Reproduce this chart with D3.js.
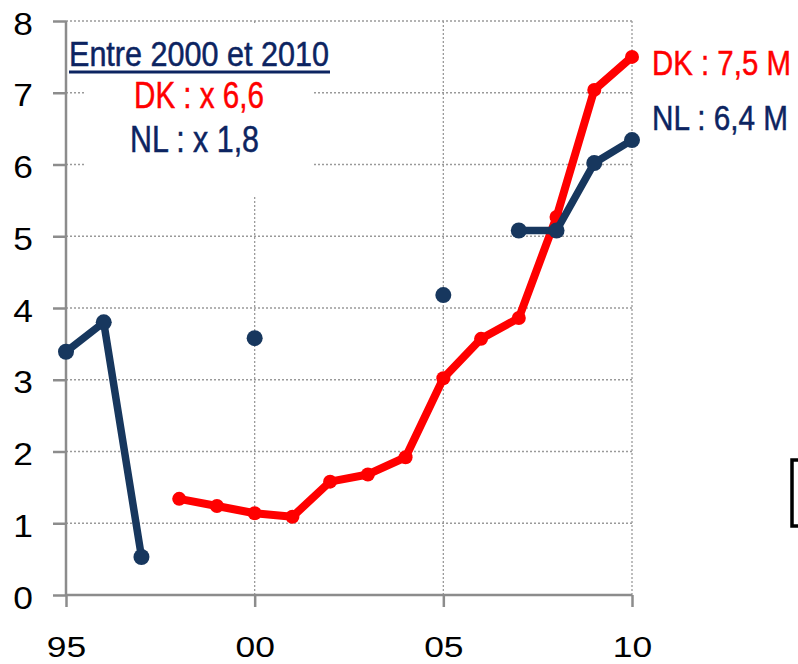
<!DOCTYPE html>
<html>
<head>
<meta charset="utf-8">
<script src="https://cdn.jsdelivr.net/npm/d3@7"></script>
<style>
  body { margin: 0; background: #fff; }
  svg { display: block; }
</style>
</head>
<body>
<div id="chart"></div>
<script>
// data
var years = [1995, 1996, 1997, 1998, 1999, 2000, 2001, 2002, 2003, 2004, 2005, 2006, 2007, 2008, 2009, 2010]
var dkValues = [null, null, null, 1.34, 1.24, 1.14, 1.09, 1.58, 1.68, 1.92, 3.02, 3.57, 3.86, 5.27, 7.04, 7.50]
var nlValues = [3.39, 3.80, 0.53, null, null, 3.58, null, null, null, null, 4.18, null, 5.08, 5.08, 6.02, 6.34]
var xTicks = [1995, 2000, 2005, 2010]
var yTicks = [0, 1, 2, 3, 4, 5, 6, 7, 8]
var boxTitle = "Entre 2000 et 2010"
var boxLines = ["DK : x 6,6", "NL : x 1,8"]
var endLabels = ["DK : 7,5 M", "NL : 6,4 M"]

var width = 798,
    height = 664
// plot edges in pixels
var plotLeft = 66, plotRight = 632, plotTop = 21, plotBottom = 595

var red = "#ff0000",
    navy = "#17375e",
    textNavy = "#0c2461",
    grey = "#8c8c8c"

var svg = d3.select("#chart")
  .append("svg")
    .attr("width", width)
    .attr("height", height)

var x = d3.scaleLinear().domain([1995, 2010]).range([plotLeft, plotRight])
var y = d3.scaleLinear().domain([0, 8]).range([plotBottom, plotTop])

// gridlines (dotted)
var grid = svg.append("g")
grid.selectAll(".hg")
  .data(yTicks.filter(function(d) { return d > 0 }))
  .enter().append("line")
    .attr("x1", plotLeft).attr("x2", plotRight)
    .attr("y1", function(d) { return y(d) }).attr("y2", function(d) { return y(d) })
    .attr("stroke", "#9a9a9a").attr("stroke-width", 1.3)
    .attr("stroke-dasharray", "2,2")
grid.selectAll(".vg")
  .data(xTicks.filter(function(d) { return d > 1995 }))
  .enter().append("line")
    .attr("x1", function(d) { return x(d) }).attr("x2", function(d) { return x(d) })
    .attr("y1", plotTop).attr("y2", plotBottom)
    .attr("stroke", "#9a9a9a").attr("stroke-width", 1.3)
    .attr("stroke-dasharray", "2,2")

// axes
var yAxis = svg.append("g")
  .attr("transform", "translate(" + plotLeft + ",0)")
  .call(d3.axisLeft(y).tickValues(yTicks).tickSize(13).tickFormat(d3.format("d")))
var xAxis = svg.append("g")
  .attr("transform", "translate(0," + plotBottom + ")")
  .call(d3.axisBottom(x).tickValues(xTicks).tickSize(12)
    .tickFormat(function(d) { return String(d % 100).padStart(2, "0") }))

svg.selectAll(".domain").remove()
yAxis.append("line").attr("x1", 0).attr("x2", 0).attr("y1", plotTop).attr("y2", plotBottom)
  .attr("stroke", grey).attr("stroke-width", 2.5)
xAxis.append("line").attr("x1", plotLeft).attr("x2", plotRight).attr("y1", 0).attr("y2", 0)
  .attr("stroke", grey).attr("stroke-width", 2.5)
svg.selectAll(".tick line").attr("stroke", grey).attr("stroke-width", 2.5)

yAxis.selectAll("text")
  .attr("x", -29).attr("dy", "0.42em")
  .attr("transform", "scale(1.14,1)")
  .style("font-family", "'Liberation Sans', Arial, sans-serif")
  .style("font-size", "31px").attr("fill", "#000")
xAxis.selectAll("text")
  .attr("y", 62).attr("dy", 0)
  .attr("transform", "scale(1.18,1)")
  .style("font-family", "'Liberation Sans', Arial, sans-serif")
  .style("font-size", "30px").attr("fill", "#000")

// box in the upper left hides the grid behind it
svg.append("rect")
  .attr("x", 84).attr("y", 25).attr("width", 228).attr("height", 172)
  .attr("fill", "#fff")

var textFont = "'Liberation Sans Narrow', 'Arial Narrow', 'Liberation Sans', sans-serif"

// condensed labels: measure the natural width, then squeeze horizontally
function label(txt, px, py, len, size, colour) {
  var t = svg.append("text")
    .style("font-family", textFont).style("font-size", size + "px")
    .attr("fill", colour)
    .attr("stroke", colour).attr("stroke-width", 0.5)
    .text(txt)
  var natural = t.node().getComputedTextLength()
  t.attr("transform", "translate(" + px + "," + py + ") scale(" + (len / natural) + ",1)")
}

label(boxTitle, 69, 66, 260, 35, textNavy)
svg.append("line")
  .attr("x1", 69).attr("x2", 330).attr("y1", 72).attr("y2", 72)
  .attr("stroke", textNavy).attr("stroke-width", 3)
label(boxLines[0], 134, 108, 130, 37, red)
label(boxLines[1], 130, 152, 129, 37, textNavy)
label(endLabels[0], 652, 75, 139, 36, red)
label(endLabels[1], 652, 130, 136, 36, textNavy)

// series
var dk = years.map(function(yr, i) { return { year: yr, value: dkValues[i] } })
var nl = years.map(function(yr, i) { return { year: yr, value: nlValues[i] } })

var line = d3.line()
  .defined(function(d) { return d.value != null })
  .x(function(d) { return x(d.year) })
  .y(function(d) { return y(d.value) })

svg.append("path")
  .datum(dk)
  .attr("d", line)
  .attr("fill", "none")
  .attr("stroke", red).attr("stroke-width", 8)
  .attr("stroke-linejoin", "round")
svg.selectAll(".dkdot")
  .data(dk.filter(function(d) { return d.value != null }))
  .enter().append("circle")
    .attr("cx", function(d) { return x(d.year) })
    .attr("cy", function(d) { return y(d.value) })
    .attr("r", 7)
    .attr("fill", red)

svg.append("path")
  .datum(nl)
  .attr("d", line)
  .attr("fill", "none")
  .attr("stroke", navy).attr("stroke-width", 7.5)
  .attr("stroke-linejoin", "round")
svg.selectAll(".nldot")
  .data(nl.filter(function(d) { return d.value != null }))
  .enter().append("circle")
    .attr("cx", function(d) { return x(d.year) })
    .attr("cy", function(d) { return y(d.value) })
    .attr("r", 8)
    .attr("fill", navy)

// cropped bracket at the right edge
svg.append("rect")
  .attr("x", 792).attr("y", 460).attr("width", 30).attr("height", 66)
  .attr("fill", "none").attr("stroke", "#000").attr("stroke-width", 3.5)
</script>
</body>
</html>
